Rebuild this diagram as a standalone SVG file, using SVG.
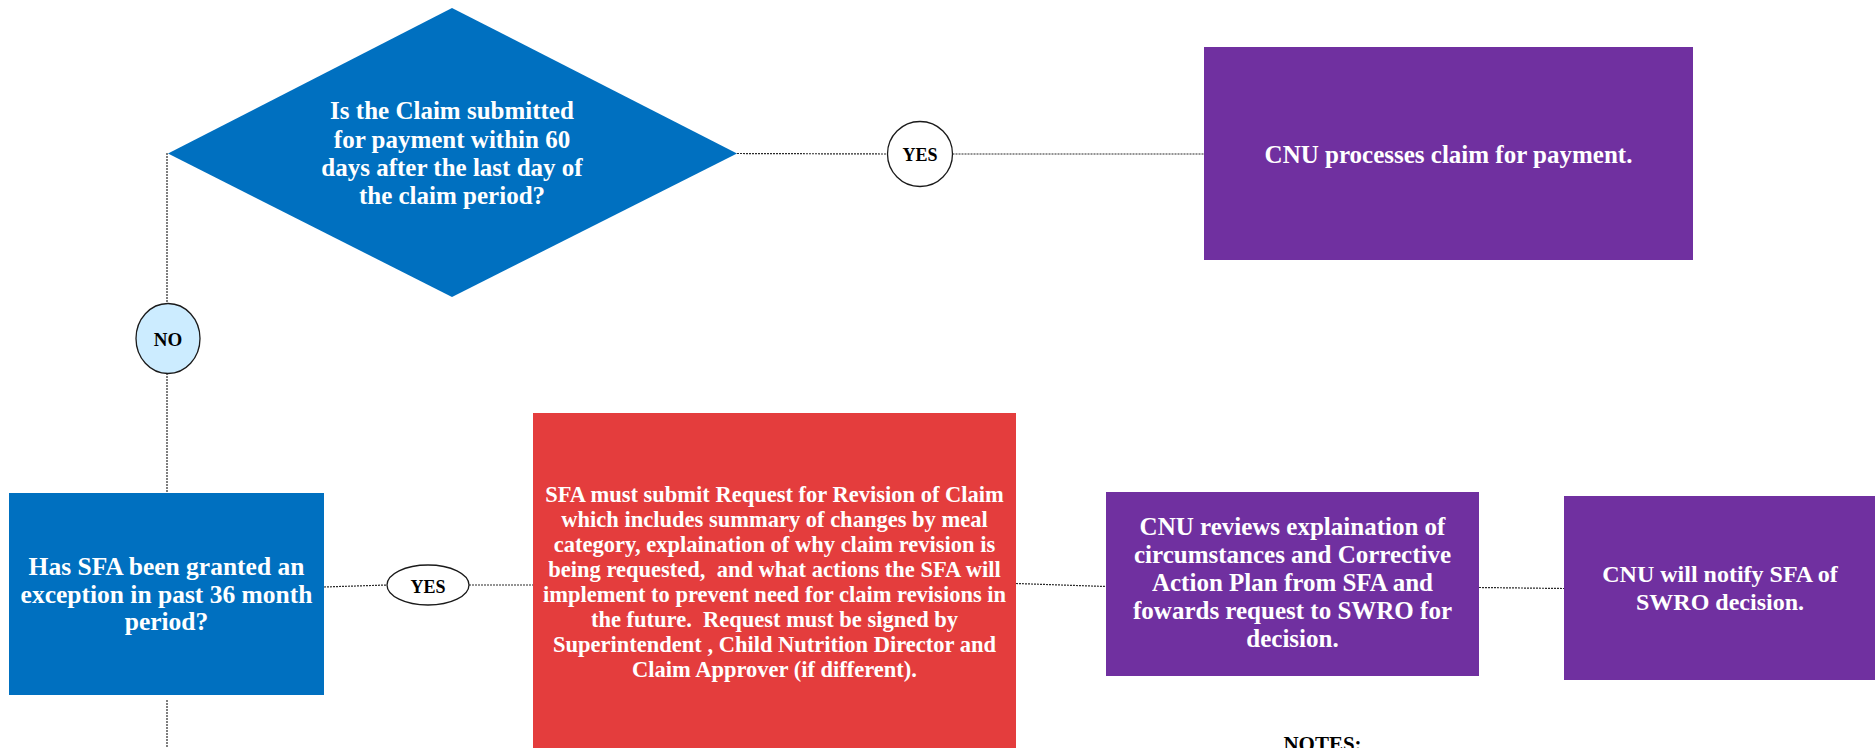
<svg xmlns="http://www.w3.org/2000/svg" width="1875" height="748" viewBox="0 0 1875 748">
<style>
  .t { font-family: "Liberation Serif", "Times New Roman", serif; font-weight: bold; fill: #ffffff; text-anchor: middle; }
  .k { font-family: "Liberation Serif", "Times New Roman", serif; font-weight: bold; fill: #000000; text-anchor: middle; }
  .conn { stroke: #2a2a2a; stroke-width: 1.2; stroke-dasharray: 2 1; fill: none; }
  .blue { fill: #0070C0; }
  .purple { fill: #7030A0; }
  .red { fill: #E43D3D; }
  .pre { white-space: pre; }
</style>
<rect width="1875" height="748" fill="#ffffff"/>
<g id="connectors">
  <line class="conn" x1="737" y1="153.5" x2="887.5" y2="154"/>
  <line class="conn" x1="952.5" y1="154" x2="1204" y2="154"/>
  <line class="conn" x1="167" y1="153" x2="167" y2="303"/>
  <line class="conn" x1="167" y1="373" x2="167" y2="493"/>
  <line class="conn" x1="167" y1="700" x2="167" y2="748"/>
  <line class="conn" x1="324" y1="587" x2="387" y2="585"/>
  <line class="conn" x1="469" y1="585" x2="533" y2="585"/>
  <line class="conn" x1="1016" y1="583.5" x2="1106" y2="586.5"/>
  <line class="conn" x1="1479" y1="587.5" x2="1564" y2="588.5"/>
</g>
<g id="decision1">
  <polygon class="blue" points="452,8 737,153.5 452,297 168,153.5"/>
  <text class="t" font-size="25" x="452" y="119">Is the Claim submitted</text>
  <text class="t" font-size="25" x="452" y="147.5">for payment within 60</text>
  <text class="t" font-size="25" x="452" y="176">days after the last day of</text>
  <text class="t" font-size="25" x="452" y="204">the claim period?</text>
</g>
<g id="yes1">
  <circle cx="920" cy="154" r="32.5" fill="#ffffff" stroke="#1a1a1a" stroke-width="1.3"/>
  <text class="k" font-size="18" x="920" y="161">YES</text>
</g>
<g id="process1">
  <rect class="purple" x="1204" y="47" width="489" height="213"/>
  <text class="t" font-size="25" x="1448.5" y="163">CNU processes claim for payment.</text>
</g>
<g id="no1">
  <ellipse cx="168" cy="338.5" rx="32" ry="35" fill="#CCECFF" stroke="#1a1a1a" stroke-width="1.3"/>
  <text class="k" font-size="19" x="168" y="346">NO</text>
</g>
<g id="decision2">
  <rect class="blue" x="9" y="493" width="315" height="202"/>
  <text class="t" font-size="25.5" x="166.5" y="575">Has SFA been granted an</text>
  <text class="t" font-size="25.5" x="166.5" y="602.5">exception in past 36 month</text>
  <text class="t" font-size="25.5" x="166.5" y="630">period?</text>
</g>
<g id="yes2">
  <ellipse cx="428" cy="585" rx="41" ry="20" fill="#ffffff" stroke="#1a1a1a" stroke-width="1.3"/>
  <text class="k" font-size="18" x="428" y="592.5">YES</text>
</g>
<g id="request">
  <rect class="red" x="533" y="413" width="483" height="340"/>
  <text class="t" font-size="22.5" x="774.5" y="501.5">SFA must submit Request for Revision of Claim</text>
  <text class="t" font-size="22.5" x="774.5" y="526.5">which includes summary of changes by meal</text>
  <text class="t" font-size="22.5" x="774.5" y="551.5">category, explaination of why claim revision is</text>
  <text class="t pre" font-size="22.5" x="774.5" y="576.5">being requested,  and what actions the SFA will</text>
  <text class="t" font-size="22.5" x="774.5" y="601.5">implement to prevent need for claim revisions in</text>
  <text class="t pre" font-size="22.5" x="774.5" y="626.5">the future.  Request must be signed by</text>
  <text class="t" font-size="22.5" x="774.5" y="651.5">Superintendent , Child Nutrition Director and</text>
  <text class="t" font-size="22.5" x="774.5" y="676.5">Claim Approver (if different).</text>
</g>
<g id="review">
  <rect class="purple" x="1106" y="492" width="373" height="184"/>
  <text class="t" font-size="25" x="1292.5" y="535">CNU reviews explaination of</text>
  <text class="t" font-size="25" x="1292.5" y="563">circumstances and Corrective</text>
  <text class="t" font-size="25" x="1292.5" y="591">Action Plan from SFA and</text>
  <text class="t" font-size="25" x="1292.5" y="619">fowards request to SWRO for</text>
  <text class="t" font-size="25" x="1292.5" y="647">decision.</text>
</g>
<g id="notify">
  <rect class="purple" x="1564" y="496" width="311" height="184"/>
  <text class="t" font-size="24" x="1720" y="581.5">CNU will notify SFA of</text>
  <text class="t" font-size="24" x="1720" y="610">SWRO decision.</text>
</g>
<g id="notes">
  <text class="k" font-size="21" x="1322.5" y="751">NOTES:</text>
</g>
</svg>
